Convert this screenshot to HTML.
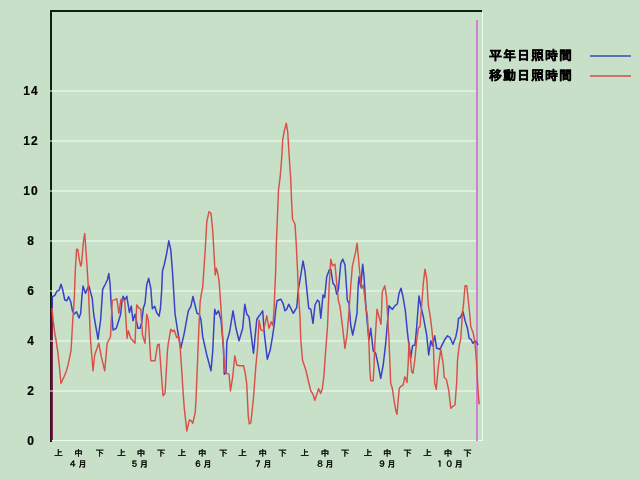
<!DOCTYPE html>
<html><head><meta charset="utf-8"><style>
html,body{margin:0;padding:0;}
body{width:640px;height:480px;background:#c8e0c8;position:relative;overflow:hidden;}
svg{position:absolute;left:0;top:0;}
.yl{position:absolute;left:20px;width:21px;height:14px;line-height:14px;text-align:center;font:bold 12px "Liberation Sans",sans-serif;color:#000;letter-spacing:1px;text-indent:1px;-webkit-text-stroke:0.2px #000;}
.xl{position:absolute;top:448px;width:20px;height:11px;line-height:11px;text-align:center;font:8.5px "Liberation Sans","IPAGothic",sans-serif;color:#000;-webkit-text-stroke:0.4px #000;}
.ml{position:absolute;top:458.5px;width:40px;height:11px;line-height:11px;text-align:left;font:8.5px "Liberation Sans","IPAGothic",sans-serif;color:#000;letter-spacing:1px;-webkit-text-stroke:0.4px #000;}
.lg{position:absolute;left:489px;font:bold 13px "Liberation Sans","IPAGothic",sans-serif;letter-spacing:1px;-webkit-text-stroke:0.3px #000;color:#000;line-height:14px;}
</style></head><body>
<svg width="640" height="480" viewBox="0 0 640 480">
<path d="M50 10H482M51 10V441" stroke="#0a220a" stroke-width="2" fill="none" shape-rendering="crispEdges" transform="translate(0,1)"/>
<rect x="50" y="309" width="1.5" height="132" fill="#3a0c22"/>
<rect x="51.5" y="309" width="1.5" height="132" fill="#7a2448"/>
<rect x="51.5" y="296" width="1.5" height="13" fill="#3838b0"/>
<g stroke="#f0fff0" stroke-width="1"><line x1="50" y1="91" x2="478" y2="91"/><line x1="50" y1="141" x2="478" y2="141"/><line x1="50" y1="191" x2="478" y2="191"/><line x1="50" y1="241" x2="478" y2="241"/><line x1="50" y1="291" x2="478" y2="291"/><line x1="50" y1="341" x2="478" y2="341"/><line x1="50" y1="391" x2="478" y2="391"/></g>
<g stroke="#eaffea" stroke-width="1" shape-rendering="crispEdges">
<line x1="52" y1="440.5" x2="482" y2="440.5"/>
<line x1="482.5" y1="12" x2="482.5" y2="441"/>
</g>
<line x1="476.5" y1="20" x2="476.5" y2="441" stroke="#d080d0" stroke-width="2" shape-rendering="crispEdges"/>
<polyline points="52,297 54.8,295.4 56.9,291.25 59,290.4 61,284.2 62.75,290 64.8,300 66.9,300.8 68.6,296.7 70.7,301.7 72.5,311 74.2,314 76.5,311.7 79,318 80.7,313.3 81.9,296.7 83,286 85.5,293.3 88.8,285.8 92.2,298.3 93.8,315 98,339.2 100.6,320 102.7,289.2 105.4,284 107.3,280 108.8,273.6 110,283 111,300.8 113,330 116.3,328.3 118.9,320 120.6,314.2 121.8,302.5 123.1,296.25 124.75,300 126.8,296.25 129.4,312.5 131.25,306 133,320.8 135,314.2 138,328.3 140,328.3 141.7,322.5 143.3,308.3 145,303.3 146.7,285 148.7,278.3 150.8,288.3 152.3,308.7 154.7,306.2 156.6,312.5 159.1,316.2 160.4,308.7 161.7,290 162.5,270.8 164.2,265 166.7,253.3 168.8,240.8 170.8,250 172.5,271.7 175,313.3 177.5,330 180.8,348.3 184.2,333.3 188.3,310.8 190.8,306.7 193,296.5 195,305 197,313.3 199.3,314.2 201,320 202.7,336.7 206.8,355 211,370.8 212.7,351.7 214.7,309.2 216.3,314.2 218.5,310.8 221,320 223.5,348.3 224.3,374.2 226,373.3 226.8,341.7 229.3,333.3 230.2,328.3 233,310.8 236,328.3 239,340.8 242.7,328.3 244.8,304.2 246.8,314.2 249,316.7 251,333.3 253.5,353.3 256.8,319.2 259.3,315.8 262.7,310.8 264.3,333.3 267.3,359.2 270.2,350 272.5,336.7 274.2,325 275.7,310 277,300.8 280.8,299.2 283,303.3 285,310.8 286.7,309.2 288.7,304.2 290.8,308.3 293.3,313.3 296.7,307.5 298.3,290 300.8,275 303,261 305,271.7 306.7,288.3 308.7,308.3 310.8,309.2 313,323.3 315,305 317.5,300 319.2,301.7 320.8,318.3 323,295 324.7,297.5 326.7,276.7 329.2,270 330.8,269.2 333,283.3 335,285.8 336.7,294.2 338.3,290 340.8,263.3 342.8,259.2 345,265 346.7,290 347.3,300 349,303.3 350.7,325 352.7,335 354.8,325 357,313.3 358.2,285 359,276.7 360.7,286.7 362.7,264.2 364,276.7 365.7,303.3 367.3,323.3 369,340 370.7,328.3 373.2,350.8 375.7,353.3 378.2,365 380.7,378.3 383.2,365 385.7,343.3 387.7,320 389,305.8 392.3,309.5 394.8,305.8 397.3,304 399,293.3 401,288.3 402.9,296.2 405.4,311.2 407.2,330 408.3,340 410.7,358.3 412.5,345.8 415,345 416.7,326.7 419,296 420.8,305.8 423.3,316.7 424.2,321.7 426.7,335 428.7,355 430.8,340.8 432.5,345.8 434.7,335.8 436.7,348.3 440,349.2 442.5,344.2 445,339.2 447.5,335.8 450,337.5 453,344.2 455.8,336.7 457.5,328.3 458.5,318.3 460.2,317.8 463,311.7 465,320.5 467.5,328.3 469.2,338.3 470.8,339.2 473,343.3 475,340.8 476.7,342.5 478,345" fill="none" stroke="#3a40c8" stroke-width="1.5" stroke-linejoin="round"/>
<polyline points="52,308 53.2,320.8 54.8,333.3 56,340 58,353.3 59.4,366.7 61,383.5 64,376.7 66.5,370.8 68.2,364.2 69.8,356.7 71.1,350 72.75,320 73.6,309.2 74.4,296.7 74.9,280 75.4,268.5 76.6,249.1 77.9,249.75 79.1,258.5 80.75,266 81.6,263.5 83.5,241 84.75,233.5 86,251 87.25,269.75 88.25,286 90.5,340 93,370.8 94.7,355 98.8,343.3 101.3,356.7 104.7,370.8 107.2,343.3 110.5,336.7 112.25,300.8 113.5,300 115.2,299.6 116.8,298.75 118.9,313.3 120.2,304.2 121,299.2 122.7,300 124.75,301.25 125.6,314.2 127,338.3 128.3,330.8 130.8,338.3 135,343.3 136.7,305 139.2,308.3 140.8,309.2 142.5,335 145,343.3 146.7,314.2 148.3,320 150.8,360.8 155,360.8 157.5,345 159.2,344.2 160.8,366.7 163,395.8 165,393.3 167.5,350 168.3,343.3 170.8,329.2 172.5,331.7 174.2,330 176.7,337.5 178.3,336.7 180,345 181.7,370 183.3,395 184.3,408.3 185.2,416.7 186.8,431 189.3,420 191,420.4 192.7,423.3 193.9,418.3 195.2,412.5 196,400 198,350 198.9,327.5 200.1,302.5 201.4,293.7 202.7,287 205.2,250 206.8,221.7 209,211.7 211,213.3 212.7,230 214.3,258.3 215.2,275 216.3,268.3 217.7,273.3 219,280 221,308.3 222.7,336.7 224.7,371.7 226.8,373.3 229,374.2 230.5,391 232.7,376.7 234.8,355.8 236.8,365 239.3,365.8 243.5,365.8 245,371.7 246.7,383.3 248.3,416.7 249.3,424 250.8,423 253.3,400 255.8,366.7 257.7,346.7 259,320 261,330 263.5,330.8 266.8,315.8 269,328.3 271.3,321.7 273,325.8 274.3,303.3 275.7,270 276.3,245 277.5,215 278.5,190 280.2,176.7 281.8,156.7 282.7,140 284.25,131.25 286.3,123.3 287.7,131.7 289.3,158.3 290.7,178.3 291.3,195 292.5,219.2 295,224.2 296.3,245 297.5,270 298.3,290 300,316.7 300.8,340 302.5,360 305.8,370 308.75,382.5 310.8,390.8 312.9,394 314.8,400.2 316.6,395 318.6,388.75 320.7,393.4 322.3,388.75 323.9,376.25 325,360 327.5,326.7 329.2,285 330.8,259.2 332.5,265.8 335,264.2 336.7,283.3 338.3,300 340,306.7 342.5,326.7 345,348.3 347,335 349,311.7 350.7,286.7 352.3,266.7 354,259.2 355.7,251.7 357,243.3 358.2,255 359.8,273.3 361.5,288.3 363.2,285 364.8,296.7 365.7,306.7 367.3,315 369,345 369.8,370 370.7,380.8 373.2,380.8 374,366.7 374.8,345 377,309.2 379,316.7 381,324.2 382.3,291.7 384.8,285.8 386.5,296.7 387.3,310 389,340 390.7,383.3 392.3,388.3 394,400 395.7,410 397,414.2 398.2,400 399.3,388.3 401.5,385.8 403.2,385 404.8,376.7 406,379.2 407,382.5 408.2,363.3 409,341.7 410.3,356.7 411.7,371.7 413,373.3 414.8,360 416.7,340 418.3,328.3 420,326.7 421.7,305 423.3,283.3 425,269.2 426.7,278.3 428.3,305 430.3,316.7 431.7,328.3 433.3,343.3 434.7,383.3 436.3,389.2 438.3,366.7 440.8,349.2 443.3,365 444.2,377.5 446.3,379.2 448.7,390 450.8,408.3 452.5,406.7 455,405 456.7,381.7 457.5,360 459.2,345.8 460.8,338.3 462.5,311.7 463.3,306.7 465,285.8 466.7,285.8 468.3,300 470,316.7 470.8,326.7 473.3,333.3 475,343.3 476.7,365 478,390 479.2,404.2" fill="none" stroke="#da5048" stroke-width="1.45" stroke-linejoin="round"/>
<line x1="590" y1="56" x2="631" y2="56" stroke="#5870c0" stroke-width="2"/>
<line x1="590" y1="76" x2="631" y2="76" stroke="#d07068" stroke-width="2"/>
</svg>
<div class="yl" style="top:84px">14</div><div class="yl" style="top:134px">12</div><div class="yl" style="top:184px">10</div><div class="yl" style="top:234px">8</div><div class="yl" style="top:284px">6</div><div class="yl" style="top:334px">4</div><div class="yl" style="top:384px">2</div><div class="yl" style="top:434px">0</div><div class="xl" style="left:48.5px">上</div><div class="xl" style="left:68.4px">中</div><div class="xl" style="left:89.8px">下</div><div class="xl" style="left:111.4px">上</div><div class="xl" style="left:130.9px">中</div><div class="xl" style="left:151.1px">下</div><div class="xl" style="left:172.1px">上</div><div class="xl" style="left:192.2px">中</div><div class="xl" style="left:213.3px">下</div><div class="xl" style="left:232.6px">上</div><div class="xl" style="left:252.7px">中</div><div class="xl" style="left:272.6px">下</div><div class="xl" style="left:294.8px">上</div><div class="xl" style="left:315.0px">中</div><div class="xl" style="left:335.1px">下</div><div class="xl" style="left:358.1px">上</div><div class="xl" style="left:377.3px">中</div><div class="xl" style="left:397.4px">下</div><div class="xl" style="left:417.4px">上</div><div class="xl" style="left:438.1px">中</div><div class="xl" style="left:457.6px">下</div><div class="ml" style="left:68.8px">４月</div><div class="ml" style="left:130.2px">５月</div><div class="ml" style="left:193.8px">６月</div><div class="ml" style="left:253.8px">７月</div><div class="ml" style="left:315.7px">８月</div><div class="ml" style="left:377.7px">９月</div><div class="ml" style="left:435.4px">１０月</div>
<div class="lg" style="top:49px">平年日照時間</div>
<div class="lg" style="top:69px">移動日照時間</div>
</body></html>
